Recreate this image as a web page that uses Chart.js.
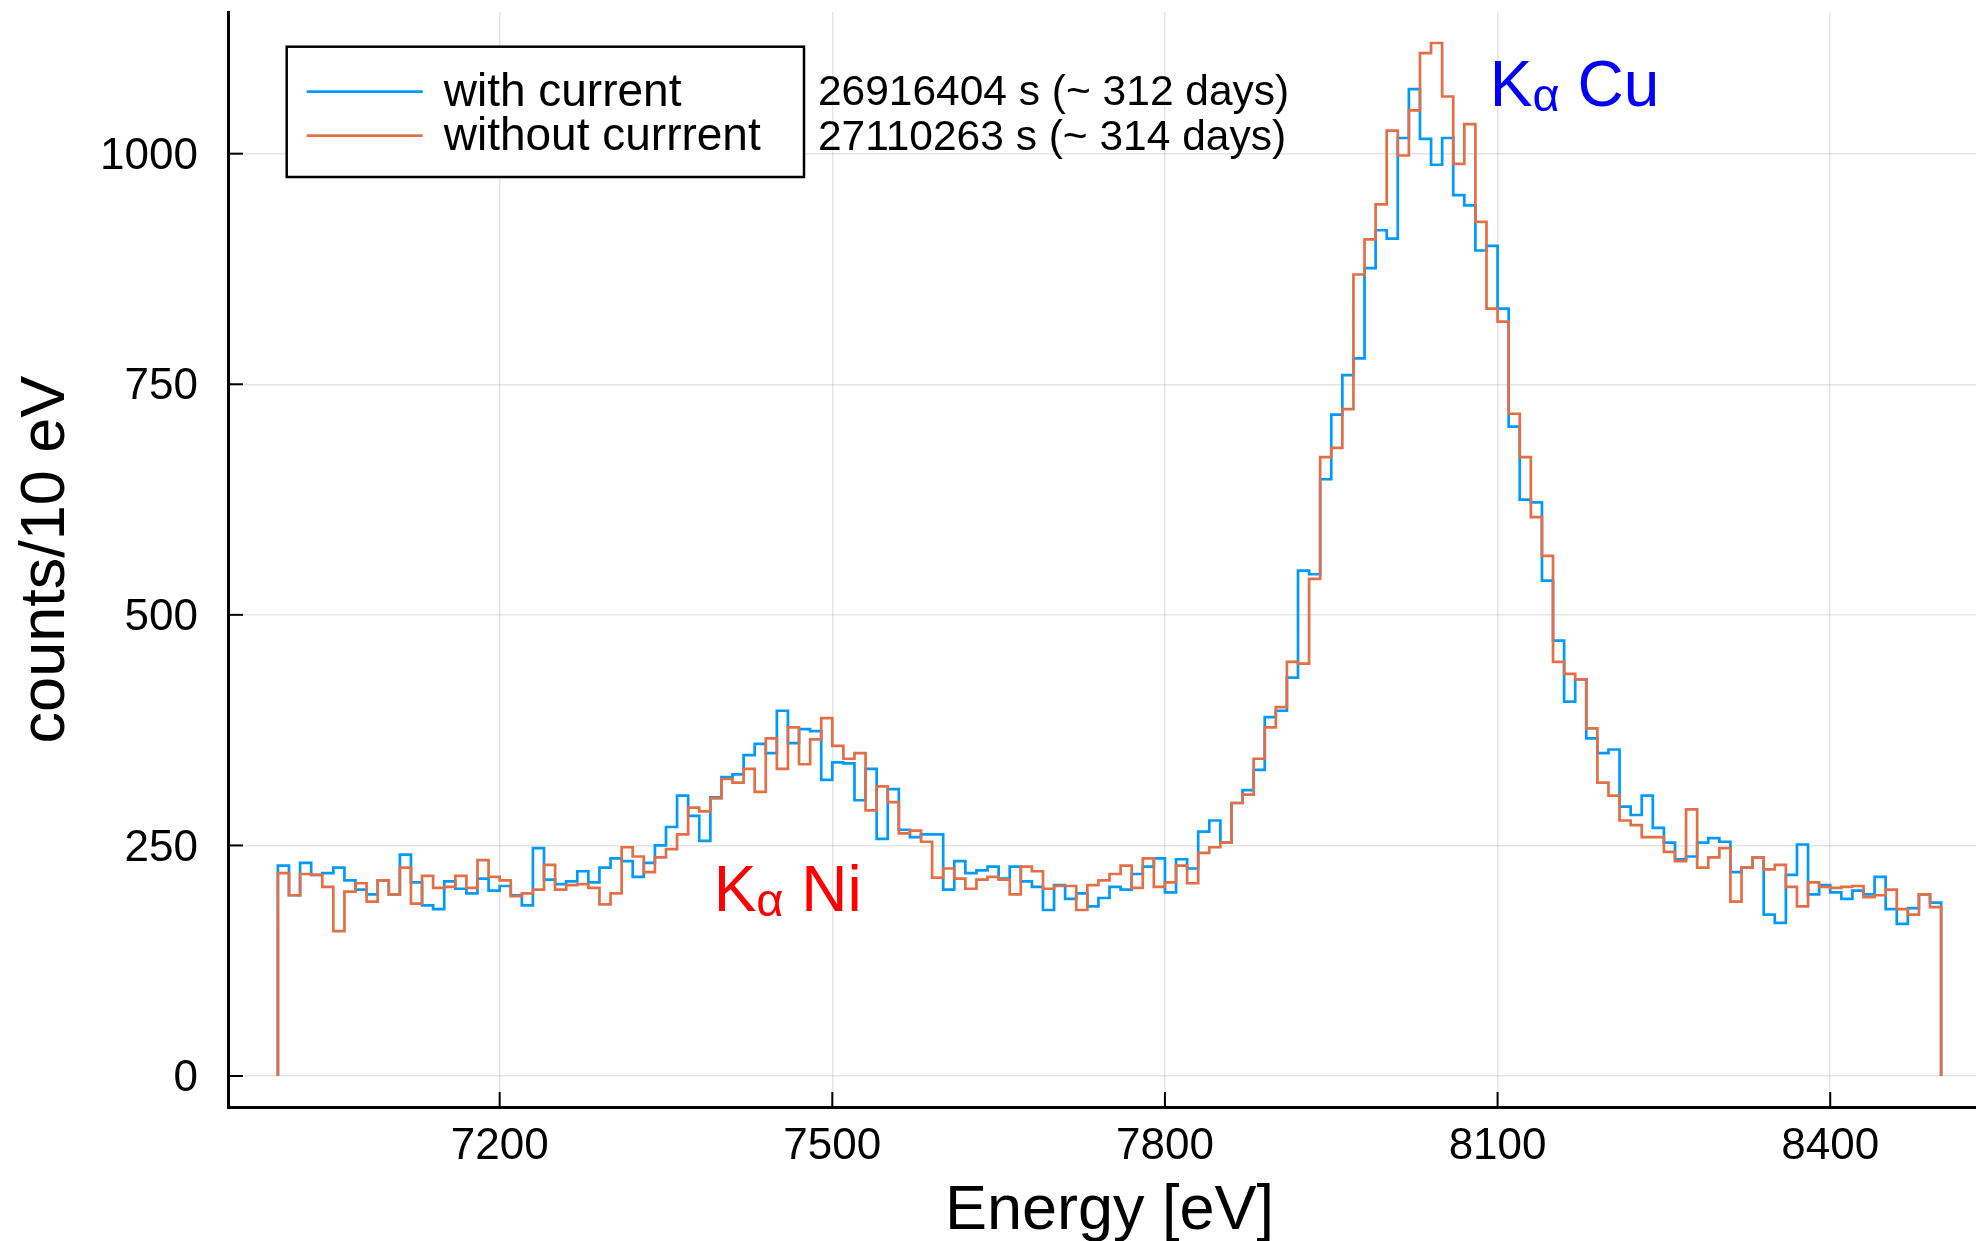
<!DOCTYPE html>
<html>
<head>
<meta charset="utf-8">
<script src="https://cdn.jsdelivr.net/npm/chart.js@4/dist/chart.umd.min.js"></script>
<style>
html,body{margin:0;padding:0;background:#fff;overflow:hidden;}
canvas{display:block;}
</style>
</head>
<body>
<canvas id="c" width="1991" height="1241"></canvas>
<script>
// ---- data (counts per 10 eV bin, bins from 7000 eV to 8500 eV) ----
const binStartEnergy = 7000;
const binWidth = 10;
const withCurrent = [
  228,196,231,218,220,226,212,202,197,212,
  197,240,210,185,181,211,203,198,214,201,
  206,196,185,247,213,208,211,222,210,226,
  236,233,216,231,250,270,304,282,255,302,
  324,327,348,360,350,396,361,376,374,321,
  340,339,299,333,257,311,267,259,262,262,
  202,233,220,223,227,214,227,211,205,180,
  207,192,198,184,193,205,202,219,227,236,
  199,235,225,265,277,253,296,310,332,389,
  396,432,548,544,647,717,760,778,876,917,
  908,1017,1070,1016,988,1017,955,944,895,900,
  832,704,625,622,537,472,406,430,366,350,
  354,292,283,304,269,253,235,238,253,258,
  254,221,226,237,175,166,218,251,197,207,
  199,192,201,197,216,181,165,182,197,188
];
const withoutCurrent = [
  220,196,219,218,205,157,200,209,189,212,
  197,226,187,217,204,205,217,204,234,216,
  212,195,198,202,229,202,207,208,204,186,
  198,248,238,221,237,246,262,291,287,301,
  322,318,333,308,366,333,378,338,365,388,
  358,344,350,288,314,297,263,266,254,215,
  225,214,203,213,216,213,197,227,222,203,
  206,206,180,207,212,219,228,204,236,205,
  210,228,209,242,248,253,296,305,344,378,
  400,449,447,539,671,681,723,869,907,945,
  1025,998,1047,1109,1120,1062,989,1032,926,832,
  818,718,671,606,564,449,436,430,377,318,
  304,277,272,259,259,243,233,289,226,237,
  247,189,226,237,224,229,205,184,210,205,
  204,205,206,194,196,202,181,175,197,183
];
const seriesLabels = ['with current', 'without currrent'];
const exposureLabels = ['26916404 s (~ 312 days)', '27110263 s (~ 314 days)'];
const xTickValues = [7200, 7500, 7800, 8100, 8400];
const yTickValues = [0, 250, 500, 750, 1000];
const xTitle = 'Energy [eV]';
const yTitle = 'counts/10 eV';

// ---- layout / style (kept apart from the data) ----
const FONT = '"Liberation Sans", Arial, Helvetica, sans-serif';
const BLUE = '#009AFA';
const ORANGE = '#E36F47';
const textAnchors = {
  exposure: { x: 7487, y: [1052.8, 1004] },
  cu: { x: 8093, y: 1052 },
  ni: { x: 7393, y: 178.5 }
};

function stepPoints(counts) {
  const pts = [{ x: binStartEnergy, y: 0 }];
  counts.forEach((c, i) => pts.push({ x: binStartEnergy + i * binWidth, y: c }));
  const end = binStartEnergy + counts.length * binWidth;
  pts.push({ x: end, y: counts[counts.length - 1] });
  pts.push({ x: end, y: 0 });
  return pts;
}

function drawKalpha(ctx, x, y, rest, color) {
  ctx.fillStyle = color;
  ctx.textAlign = 'left';
  ctx.textBaseline = 'alphabetic';
  ctx.font = '64px ' + FONT;
  ctx.fillText('K', x, y);
  let w = ctx.measureText('K').width;
  ctx.font = '47px ' + FONT;
  ctx.fillText('\u03B1', x + w, y + 5);
  w += ctx.measureText('\u03B1').width;
  ctx.font = '64px ' + FONT;
  ctx.fillText(' ' + rest, x + w, y);
}

const overlay = {
  id: 'overlay',
  afterDraw(chart) {
    const { ctx, chartArea: a, scales: { x, y } } = chart;
    ctx.save();
    // inward tick marks
    ctx.strokeStyle = '#000';
    ctx.lineWidth = 2;
    xTickValues.forEach(v => {
      const px = x.getPixelForValue(v);
      ctx.beginPath(); ctx.moveTo(px, a.bottom); ctx.lineTo(px, a.bottom - 15); ctx.stroke();
    });
    yTickValues.forEach(v => {
      const py = y.getPixelForValue(v);
      ctx.beginPath(); ctx.moveTo(a.left, py); ctx.lineTo(a.left + 15, py); ctx.stroke();
    });

    // legend box
    const bx = a.left + 58.7, by = a.top + 34.7, bw = 517.3, bh = 130.3;
    ctx.fillStyle = '#fff';
    ctx.fillRect(bx, by, bw, bh);
    ctx.strokeStyle = '#000';
    ctx.lineWidth = 2.5;
    ctx.strokeRect(bx, by, bw, bh);
    const rows = [{ c: BLUE, dy: 45 }, { c: ORANGE, dy: 89 }];
    ctx.font = '46px ' + FONT;
    ctx.textAlign = 'left';
    ctx.textBaseline = 'alphabetic';
    rows.forEach((r, i) => {
      ctx.strokeStyle = r.c;
      ctx.lineWidth = 2.7;
      ctx.beginPath(); ctx.moveTo(bx + 20, by + r.dy); ctx.lineTo(bx + 136, by + r.dy); ctx.stroke();
      ctx.fillStyle = '#000';
      ctx.fillText(seriesLabels[i], bx + 157, by + r.dy + 14);
    });

    // exposure annotations
    ctx.font = '42.5px ' + FONT;
    ctx.fillStyle = '#000';
    exposureLabels.forEach((t, i) => {
      ctx.fillText(t, x.getPixelForValue(textAnchors.exposure.x), y.getPixelForValue(textAnchors.exposure.y[i]));
    });

    // peak labels
    drawKalpha(ctx, x.getPixelForValue(textAnchors.cu.x), y.getPixelForValue(textAnchors.cu.y), 'Cu', '#0000FF');
    drawKalpha(ctx, x.getPixelForValue(textAnchors.ni.x), y.getPixelForValue(textAnchors.ni.y), 'Ni', '#FF0000');
    ctx.restore();
  }
};

Chart.defaults.font.family = FONT;
Chart.defaults.color = '#000';

new Chart(document.getElementById('c'), {
  type: 'line',
  data: {
    datasets: [
      {
        label: seriesLabels[0],
        data: stepPoints(withCurrent),
        borderColor: BLUE,
        borderWidth: 2.7,
        pointRadius: 0,
        fill: false,
        stepped: 'before',
        order: 1
      },
      {
        label: seriesLabels[1],
        data: stepPoints(withoutCurrent),
        borderColor: ORANGE,
        borderWidth: 2.7,
        pointRadius: 0,
        fill: false,
        stepped: 'before',
        order: 0
      }
    ]
  },
  options: {
    responsive: false,
    animation: false,
    devicePixelRatio: 1,
    layout: { padding: { top: 12, left: 0, right: 0, bottom: 0 } },
    plugins: { legend: { display: false }, tooltip: { enabled: false } },
    scales: {
      x: {
        type: 'linear',
        min: 6955,
        max: 8545,
        afterBuildTicks: s => { s.ticks = xTickValues.map(v => ({ value: v })); },
        afterFit: s => { s.height = 134; s.paddingLeft = 0; s.paddingRight = 0; },
        ticks: { font: { size: 44 }, color: '#000', padding: 13, maxRotation: 0, callback: v => String(v) },
        grid: { color: 'rgba(0,0,0,0.1)', lineWidth: 1.5, drawTicks: false },
        border: { display: true, color: '#000', width: 3 },
        title: { display: true, text: xTitle, font: { size: 63, lineHeight: 0.92 }, color: '#000', padding: { top: 0, bottom: 0 } }
      },
      y: {
        type: 'linear',
        min: -33.6,
        max: 1153.6,
        afterBuildTicks: s => { s.ticks = yTickValues.map(v => ({ value: v })); },
        afterFit: s => { s.width = 228; s.paddingTop = 0; s.paddingBottom = 0; },
        ticks: { font: { size: 44 }, color: '#000', padding: 30, labelOffset: 3, callback: v => String(v) },
        grid: { color: 'rgba(0,0,0,0.1)', lineWidth: 1.5, drawTicks: false },
        border: { display: true, color: '#000', width: 3 },
        title: { display: true, text: yTitle, font: { size: 63, lineHeight: 0.92 }, color: '#000', padding: { top: 17.6, bottom: 0 } }
      }
    }
  },
  plugins: [overlay]
});
</script>
</body>
</html>
